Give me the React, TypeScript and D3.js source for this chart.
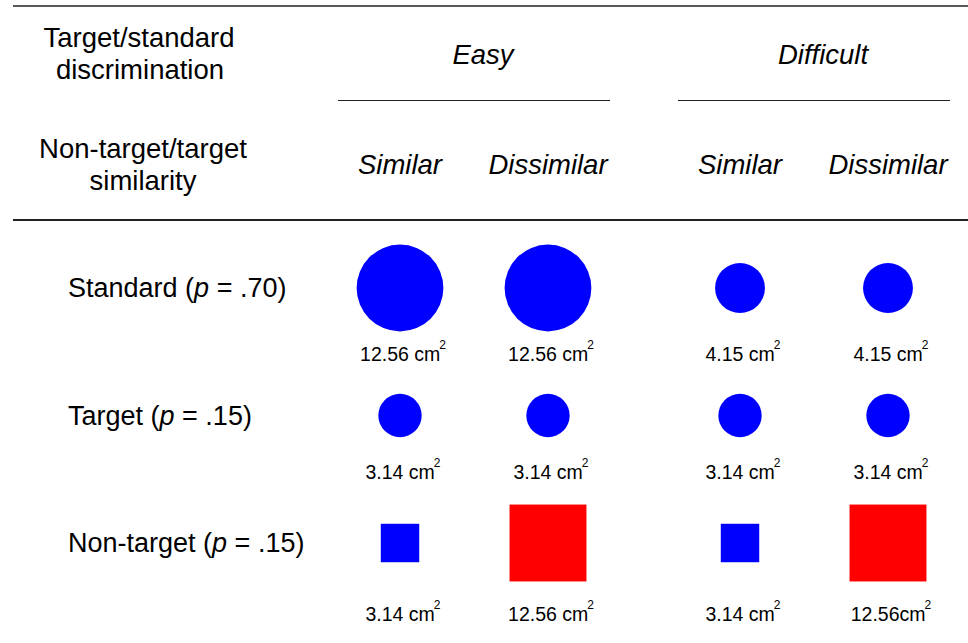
import React from 'react';
import * as d3 from 'd3';

// table layout: 2 discrimination levels x 2 similarity levels
const groups = ['Easy', 'Difficult'];
const similarity = ['Similar', 'Dissimilar'];
const stimuli = ['Standard', 'Target', 'Non-target'];
const probabilities = ['.70', '.15', '.15'];
const shapes = ['circle', 'circle', 'square'];

// areas (cm²) per condition: Easy-Similar, Easy-Dissimilar, Difficult-Similar, Difficult-Dissimilar
const standardArea = [12.56, 12.56, 4.15, 4.15];
const targetArea = [3.14, 3.14, 3.14, 3.14];
const nonTargetArea = [3.14, 12.56, 3.14, 12.56];
const nonTargetColor = ['#0000ff', '#ff0000', '#0000ff', '#ff0000'];
const nonTargetLabels = ['3.14 cm', '12.56 cm', '3.14 cm', '12.56cm'];

const W = 968;
const H = 643;
const FONT = '"Liberation Sans", Arial, Helvetica, sans-serif';
const BLUE = '#0000ff';

const areas = [standardArea, targetArea, nonTargetArea];
const colors = [standardArea.map(() => BLUE), targetArea.map(() => BLUE), nonTargetColor];
const labels = [
  standardArea.map(a => a.toFixed(2) + ' cm'),
  targetArea.map(a => a.toFixed(2) + ' cm'),
  nonTargetLabels,
];

const App: React.FC = () => {
  const groupX = d3.scaleBand<string>().domain(groups).range([338, 950]).paddingInner(0.2);
  const innerX = d3.scalePoint<string>().domain(similarity).range([0, groupX.bandwidth()]).padding(0.419);
  const rowY = d3.scalePoint<string>().domain(stimuli).range([288, 543]);

  // 1 cm in pixels
  const pxPerCm = 21.7;
  const radius = (area: number) => Math.sqrt(area / Math.PI) * pxPerCm;
  const side = (area: number) => Math.sqrt(area) * pxPerCm;

  const cols = groups.flatMap(g => similarity.map(s => (groupX(g) || 0) + (innerX(s) || 0)));
  const labelOffset = [73, 63, 78];

  return (
    <div style={{ position: 'absolute', left: 0, top: 0 }}>
      <svg width={W} height={H} style={{ display: 'block', fontFamily: FONT }}>
        <rect width={W} height={H} fill="#fff" />
        {/* rules */}
        <line x1={13} x2={W} y1={6} y2={6} stroke="#222" strokeWidth={1.5} />
        <line x1={13} x2={W} y1={220} y2={220} stroke="#222" strokeWidth={2} />
        {groups.map(g => (
          <line key={g} x1={groupX(g)} x2={(groupX(g) || 0) + groupX.bandwidth()} y1={100.5} y2={100.5}
            stroke="#222" strokeWidth={1} />
        ))}

        {/* header labels */}
        <g fontSize={27.5} fill="#000" textAnchor="middle">
          <text x={139} y={47}>Target/standard</text>
          <text x={140} y={79}>discrimination</text>
          <text x={143} y={158}>Non-target/target</text>
          <text x={143} y={190}>similarity</text>
          {groups.map(g => (
            <text key={g} x={(groupX(g) || 0) + groupX.bandwidth() / 2 + 9} y={64} fontStyle="italic">{g}</text>
          ))}
          {groups.map(g => similarity.map(s => (
            <text key={g + s} x={(groupX(g) || 0) + (innerX(s) || 0)} y={174} fontStyle="italic">{s}</text>
          )))}
        </g>

        {/* rows */}
        {stimuli.map((st, i) => {
          const y = rowY(st) || 0;
          return (
            <g key={st}>
              <text x={68} y={y + 9} fontSize={27} fill="#000">
                {st} (<tspan fontStyle="italic">p</tspan> = {probabilities[i]})
              </text>
              {cols.map((cx, j) => {
                const a = areas[i][j];
                return shapes[i] === 'circle' ? (
                  <circle key={j} cx={cx} cy={y} r={radius(a)} fill={colors[i][j]} />
                ) : (
                  <rect key={j} x={cx - side(a) / 2} y={y - side(a) / 2} width={side(a)} height={side(a)} fill={colors[i][j]} />
                );
              })}
              {cols.map((cx, j) => (
                <text key={'l' + j} x={cx + 3} y={y + labelOffset[i]} fontSize={19.5} fill="#000" textAnchor="middle">
                  {labels[i][j]}<tspan fontSize={12} dx={-1} dy={-12}>2</tspan>
                </text>
              ))}
            </g>
          );
        })}
      </svg>
    </div>
  );
};

export default App;
